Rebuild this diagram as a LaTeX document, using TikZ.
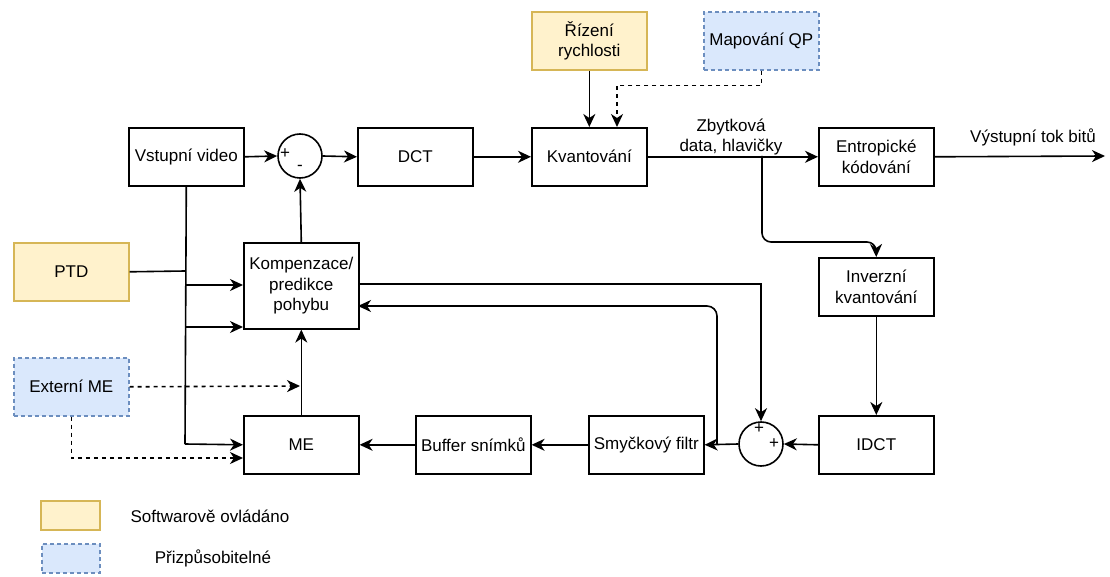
\documentclass[tikz,border=0pt]{standalone}
\usepackage{fontspec}
\setmainfont{Liberation Sans}
\usetikzlibrary{arrows.meta}
\definecolor{yfill}{HTML}{FFF2CC}
\definecolor{ydraw}{HTML}{D6B656}
\definecolor{bfill}{HTML}{DAE8FC}
\definecolor{bdraw}{HTML}{6C8EBF}
\begin{document}
\begin{tikzpicture}[x=1pt,y=-1pt,
  every node/.style={font=\fontsize{17}{20.5}\selectfont},
  box/.style={draw, line width=1.6pt, minimum width=115pt, minimum height=58pt, inner sep=0pt, align=center, anchor=north west},
  ybox/.style={box, fill=yfill, draw=ydraw},
  bbox/.style={box, fill=bfill, draw=bdraw, dash pattern=on 4pt off 3pt},
  sumc/.style={draw, circle, line width=1.6pt, minimum size=44pt, inner sep=0pt},
  sgn/.style={font=\fontsize{17}{17}\selectfont, inner sep=0pt},
  lbl/.style={inner sep=0pt, align=center},
  arr/.style={line width=1.6pt, -{Stealth[length=13pt,width=12pt,inset=4pt]}},
  ln/.style={line width=1.6pt},
  darr/.style={arr, dash pattern=on 4pt off 4pt},
]
\useasboundingbox (0,0) rectangle (1110,577);

% nodes
\node[box] (vid) at (128,127) {Vstupní video};
\node[sumc] (sub) at (300,156) {};
\node[sgn] (subp) at (285,154) {+};
\node[sgn] (subm) at (300,168) {-};
\node[box] (dct) at (357,127) {DCT};
\node[box] (kv) at (531,127) {Kvantování};
\node[ybox] (rr) at (531,11) {Řízení\\rychlosti};
\node[bbox] (mqp) at (703,11) {Mapování QP};
\node[box] (ent) at (818,127) {Entropické\\kódování};
\node[box] (iq) at (818,257) {Inverzní\\kvantování};
\node[box] (idct) at (818,415) {IDCT};
\node[sumc] (add) at (761,444) {};
\node[sgn] (addp1) at (759,429) {+};
\node[sgn] (addp2) at (774,444) {+};
\node[box] (sf) at (588,415) {Smyčkový filtr};
\node[box] (buf) at (415,415) {Buffer snímků};
\node[box] (me) at (243,415) {ME};
\node[box, minimum height=86pt] (mc) at (243,242) {Kompenzace/\\predikce\\pohybu};
\node[ybox] (ptd) at (13,242) {PTD};
\node[bbox] (ext) at (13,357) {Externí ME};

\node[lbl] (zb) at (731,137) {Zbytková\\data, hlavičky};
\node[lbl] (vyst) at (1033,137) {Výstupní tok bitů};

% legend
\node[ybox, minimum width=59pt, minimum height=29pt] (lgy) at (40,500) {};
\node[bbox, minimum width=58pt, minimum height=29pt] (lgb) at (41,543) {};
\node[lbl] (lgyt) at (210,516) {Softwarově ovládáno};
\node[lbl] (lgbt) at (213,558) {Přizpůsobitelné};

% coordinates
\coordinate (kvq) at (617,127);
\coordinate (out) at (1105,156);
\coordinate (br) at (762,156);
\coordinate (lp) at (717,444);
\coordinate (mcin) at (358,306);
\coordinate (mcout) at (358,284);
\coordinate (a1) at (185,285);
\coordinate (a2) at (185,327);
\coordinate (a3) at (185,444);
\coordinate (a4) at (185,271);
\coordinate (mearr) at (300,386);
\coordinate (med) at (243,458);

% connectors
\draw[arr] (vid.east) -- (sub.west);
\draw[arr] (sub.east) -- (dct.west);
\draw[arr] (dct.east) -- (kv.west);
\draw[arr] (rr.south) -- (kv.north);
\draw[darr] (mqp.south) -- ++(0,15) -| (kvq);
\draw[arr] (kv.east) -- (ent.west);
\draw[arr] (ent.east) -- (out);
\draw[arr, rounded corners=9pt] (br) -- (762,242) -- (876,242) -- (iq.north);
\draw[arr] (iq.south) -- (idct.north);
\draw[arr] (idct.west) -- (add.east);
\draw[arr] (add.west) -- (sf.east);
\draw[arr, rounded corners=10pt] (lp) |- (mcin);
\draw[arr] (mcout) -| (add.north);
\draw[arr] (mc.north) -- (sub.south);
\draw[arr] (sf.west) -- (buf.east);
\draw[arr] (buf.west) -- (me.east);
\draw[arr] (me.north) -- (mc.south);
\draw[ln] (vid.south) -- (a3);
\draw[arr] (a1) -- (a1 -| mc.west);
\draw[arr] (a2) -- (a2 -| mc.west);
\draw[arr] (a3) -- (me.west);
\draw[ln] (ptd.east) -- (a4);
\draw[darr] (ext.east) -- (mearr);
\draw[darr] (ext.south) |- (med);
\end{tikzpicture}
\end{document}
